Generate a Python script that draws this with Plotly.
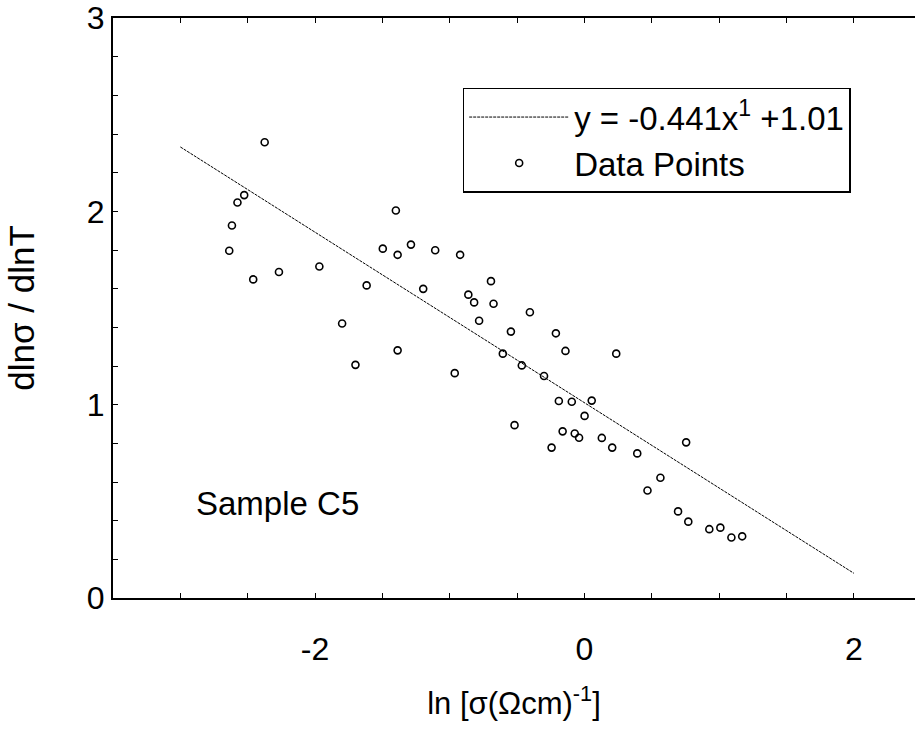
import plotly.graph_objects as go

# Measured points: ln(sigma) vs dln(sigma)/dln(T), sample C5
ln_sigma = [
    -2.374, -2.526, -2.576, -2.617, -2.637, -2.459, -2.268, -1.968, -1.799, -1.617,
    -1.497, -1.400, -1.387, -1.288, -1.108, -0.923, -0.694, -1.197, -0.862, -0.819,
    -0.675, -0.405, -0.782, -0.546, -0.212, -1.700, -1.387, -0.963, -0.606, -0.465,
    -0.300, -0.141, 0.236, -0.190, -0.094, 0.054, 0.001, -0.519, -0.162, -0.072,
    -0.040, -0.244, 0.129, 0.206, 0.392, 0.755, 0.564, 0.468, 0.695, 0.771,
    0.927, 1.009, 1.091, 1.171,
]
dlns_dlnT = [
    2.357, 2.084, 2.046, 1.927, 1.796, 1.648, 1.686, 1.715, 1.420, 1.617,
    1.807, 2.004, 1.775, 1.828, 1.799, 1.775, 1.639, 1.599, 1.569, 1.529,
    1.522, 1.478, 1.434, 1.378, 1.369, 1.206, 1.281, 1.163, 1.264, 1.203,
    1.148, 1.278, 1.264, 1.019, 1.015, 1.021, 0.942, 0.894, 0.862, 0.851,
    0.829, 0.778, 0.828, 0.778, 0.748, 0.805, 0.622, 0.556, 0.448, 0.395,
    0.356, 0.364, 0.313, 0.319,
]

# x-axis tick positions and their labels (plain hyphen for the minus sign)
x_tickvals = [-2, 0, 2]
x_ticktext = ["-2", "0", "2"]

# Linear fit y = slope * x + intercept, drawn over the fitted span
slope = -0.441
intercept = 1.01
fit_x = [-3.0, 2.0]
fit_y = [slope * x + intercept for x in fit_x]

FONT = "Liberation Sans, Arial, Helvetica, sans-serif"
FS = 32

fig = go.Figure()
fig.add_trace(go.Scatter(
    x=fit_x, y=fit_y, mode="lines",
    name="y = -0.441x<sup>1</sup> +1.01",
    line=dict(color="black", width=1, dash="3px,1px"),
))
fig.add_trace(go.Scatter(
    x=ln_sigma, y=dlns_dlnT, mode="markers",
    name="Data Points",
    marker=dict(symbol="circle-open", size=7, color="black",
                line=dict(color="black", width=1.6)),
))

fig.add_annotation(
    x=-2.28, y=0.49, xref="x", yref="y", text="Sample C5",
    showarrow=False, font=dict(size=33, color="black", family=FONT),
)

fig.update_layout(
    width=915, height=741,
    margin=dict(l=113, r=0, t=16, b=143),
    paper_bgcolor="white", plot_bgcolor="white",
    font=dict(family=FONT, size=FS, color="black"),
    showlegend=True,
    legend=dict(
        x=0.436, y=0.88, xanchor="left", yanchor="top",
        bgcolor="white", bordercolor="black", borderwidth=1.5,
        font=dict(size=33, family=FONT, color="black"),
        itemwidth=100, tracegroupgap=0,
    ),
    xaxis=dict(
        range=[-3.5, 2.454], showgrid=False, zeroline=False,
        showline=True, linecolor="black", linewidth=2, mirror="ticks",
        ticks="inside", ticklen=5, tickwidth=1.2, tickcolor="black",
        tickmode="array", tickvals=x_tickvals, ticktext=x_ticktext,
        ticklabelstandoff=22, ticklabeloverflow="allow",
        minor=dict(dtick=0.5, tick0=0, ticks="inside", ticklen=5,
                   tickcolor="black", tickwidth=1.2),
        tickfont=dict(size=FS),
        title=dict(text="ln [σ(Ωcm)<sup>-1</sup>]", font=dict(size=31), standoff=26),
    ),
    yaxis=dict(
        range=[0, 3], showgrid=False, zeroline=False,
        showline=True, linecolor="black", linewidth=2,
        ticks="inside", ticklen=5, tickwidth=1.2, tickcolor="black",
        tick0=0, dtick=1, ticklabeloverflow="allow",
        minor=dict(dtick=0.2, tick0=0, ticks="inside", ticklen=5,
                   tickcolor="black", tickwidth=1.2),
        tickfont=dict(size=FS),
        title=dict(text="dlnσ / dlnT", font=dict(size=35), standoff=42),
    ),
)

fig.write_html("out.html")
